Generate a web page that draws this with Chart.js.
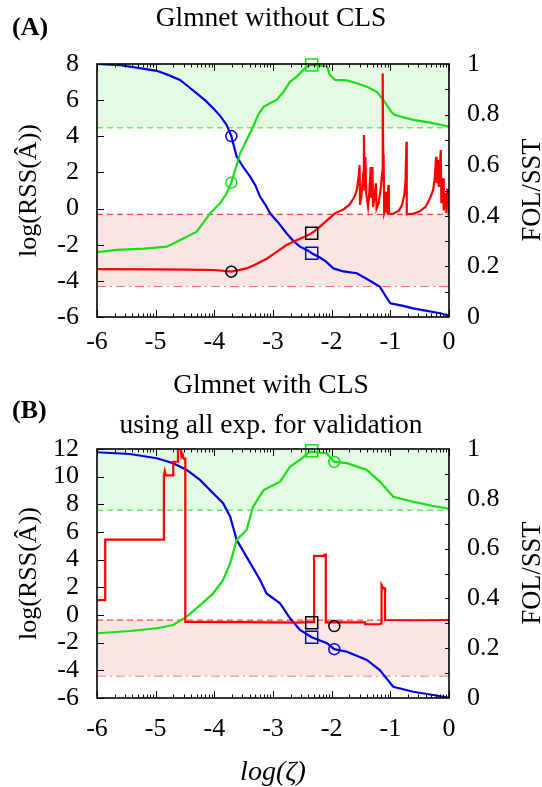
<!DOCTYPE html>
<html>
<head>
<meta charset="utf-8">
<script src="https://cdn.jsdelivr.net/npm/chart.js@4.4.1/dist/chart.umd.min.js"></script>
<style>
  body { margin: 0; background: #fff; }
  #wrap { position: relative; width: 542px; height: 787px; font-family: 'Liberation Serif', 'Times New Roman', serif; }
  canvas { position: absolute; left: 0; }
  .tag { position: absolute; font-weight: bold; font-size: 26px; line-height: 30px; }
  .y2t { position: absolute; font-size: 26.5px; line-height: 30px; white-space: nowrap; transform: translate(-50%, -50%) rotate(-90deg); }
</style>
</head>
<body>
<div id="wrap">
  <canvas id="chartA" width="542" height="360" style="top:0"></canvas>
  <canvas id="chartB" width="542" height="427" style="top:360px"></canvas>
  <div class="tag" style="left:12px; top:12px">(A)</div>
  <div class="tag" style="left:12px; top:395px">(B)</div>
  <div class="y2t" style="left:531px; top:190px">FOL/SST</div>
  <div class="y2t" style="left:531px; top:573px">FOL/SST</div>
</div>
<script>
// ---- data ----
const xTicks = [-6, -5, -4, -3, -2, -1, 0];

// panel A : Glmnet without CLS
const aBlueX = [-6, -5.6, -5.3, -4.98, -4.8, -4.585, -4.45, -4.3, -4.15, -4.02, -3.9, -3.79, -3.71, -3.62, -3.5, -3.39, -3.3, -3.22, -3.12, -3.05, -2.9, -2.77, -2.65, -2.54, -2.4, -2.34, -2.2, -2.1, -1.97, -1.8, -1.57, -1.4, -1.18, -1.1, -1.0, -0.8, -0.61, -0.4, -0.15, 0];
const aBlueY = [1.0, 0.995, 0.985, 0.973, 0.958, 0.937, 0.912, 0.884, 0.855, 0.825, 0.795, 0.759, 0.715, 0.634, 0.59, 0.555, 0.52, 0.475, 0.44, 0.41, 0.37, 0.331, 0.3, 0.278, 0.262, 0.252, 0.235, 0.22, 0.192, 0.18, 0.173, 0.15, 0.12, 0.09, 0.054, 0.045, 0.034, 0.025, 0.015, 0.005];
const aGreenX = [-6, -5.66, -5.2, -4.81, -4.58, -4.3, -4.07, -3.9, -3.79, -3.71, -3.62, -3.56, -3.45, -3.34, -3.25, -3.16, -3.05, -2.94, -2.82, -2.71, -2.62, -2.54, -2.45, -2.37, -2.2, -2.08, -2.03, -1.94, -1.74, -1.57, -1.4, -1.23, -1.12, -0.98, -0.92, -0.61, -0.32, -0.04, 0];
const aGreenY = [0.256, 0.265, 0.27, 0.278, 0.304, 0.337, 0.41, 0.45, 0.489, 0.531, 0.6, 0.647, 0.7, 0.752, 0.8, 0.831, 0.845, 0.858, 0.89, 0.93, 0.945, 0.963, 0.985, 0.996, 0.993, 0.99, 0.956, 0.937, 0.935, 0.924, 0.91, 0.89, 0.858, 0.81, 0.798, 0.779, 0.768, 0.755, 0.752];
const aRedX = [-6, -5, -4.5, -4.0, -3.71, -3.45, -3.3, -3.1, -2.95, -2.77, -2.6, -2.45, -2.34, -2.2, -2.08, -1.94, -1.8, -1.7, -1.62, -1.57, -1.54, -1.525, -1.515,
  -1.49, -1.46, -1.45, -1.44, -1.425, -1.41, -1.38, -1.36, -1.335, -1.325, -1.305, -1.295, -1.275, -1.245, -1.235, -1.2, -1.16, -1.14, -1.13, -1.122, -1.115, -1.105,
  -1.09, -1.075, -1.065, -1.055, -1.045, -1.035, -1.025, -0.95, -0.85, -0.8, -0.76, -0.74, -0.725, -0.72, -0.6, -0.5, -0.4, -0.32, -0.27, -0.24, -0.22, -0.21,
  -0.19, -0.175, -0.14, -0.13, -0.1, -0.09, -0.07, -0.055, -0.045, -0.03, -0.01, 0];
const aRedY = [-3.35, -3.37, -3.38, -3.4, -3.49, -3.31, -3.1, -2.76, -2.42, -2.02, -1.75, -1.55, -1.37, -1.0, -0.65, -0.25, -0.05, 0.2, 0.6, 1.03, 1.8, 2.41, 0.2,
  0.8, 2.0, 4.07, 1.0, 2.87, 0.8, 0.1, 0.8, 2.3, 0.6, 2.3, 0.1, 0.5, 1.4, 0.0, 0.3, 1.2, 2.0, 7.48, 3.0, 3.05, -0.26,
  -0.1, 0.93, -0.2, 0.7, -0.3, 1.3, -0.3, -0.28, -0.1, 0.2, 0.8, 1.6, 3.7, -0.32, -0.28, -0.15, 0.1, 0.6, 1.03, 1.8, 2.87, 1.4,
  2.69, 1.2, 3.24, 0.3, 1.68, -0.1, 0.5, 0.86, -0.26, 1.03, 1.0, -0.3];
const aBands = { green: 0.748, redTop: -0.32, redBottom: -4.29 };
const aCircleX = [-3.71], aCircleBlue = [0.715], aCircleGreen = [0.531], aCircleRed = [-3.49];
const aSquareX = [-2.34], aSquareBlue = [0.252], aSquareGreen = [0.996], aSquareRed = [-1.37];

// panel B : Glmnet with CLS, all exp. for validation
const bBlueX = [-6, -5.44, -4.98, -4.7, -4.47, -4.24, -4.02, -3.85, -3.73, -3.62, -3.45, -3.22, -3.11, -2.88, -2.71, -2.54, -2.34, -2.08, -1.955, -1.74, -1.4, -1.18, -0.95, -0.61, -0.27, -0.04, 0];
const bBlueY = [0.987, 0.98, 0.963, 0.943, 0.916, 0.875, 0.822, 0.782, 0.728, 0.635, 0.567, 0.474, 0.42, 0.38, 0.32, 0.273, 0.244, 0.22, 0.196, 0.186, 0.153, 0.112, 0.045, 0.025, 0.012, 0.003, 0.002];
const bGreenX = [-6, -5.44, -4.98, -4.7, -4.47, -4.24, -4.02, -3.85, -3.73, -3.62, -3.45, -3.34, -3.16, -2.88, -2.71, -2.54, -2.37, -2.08, -1.955, -1.74, -1.4, -1.18, -0.95, -0.61, -0.27, -0.04, 0];
const bGreenY = [0.26, 0.269, 0.28, 0.293, 0.327, 0.373, 0.42, 0.474, 0.541, 0.635, 0.675, 0.768, 0.835, 0.869, 0.929, 0.956, 0.989, 0.983, 0.948, 0.943, 0.916, 0.869, 0.808, 0.788, 0.771, 0.762, 0.76];
const bRedX = [-6, -5.86, -5.86, -4.86, -4.86, -4.845, -4.83, -4.7, -4.7, -4.62, -4.62, -4.57, -4.56, -4.54, -4.525, -4.495, -4.495, -3.5, -2.6, -2.3, -2.3, -2.12, -2.12, -2.1, -2.1, -1.75, -1.43, -1.43, -1.18, -1.15, -1.15, -1.12, -1.09, -1.09, -0.5, 0];
const bRedY = [1.08, 1.08, 5.45, 5.45, 10.1, 10.4, 10.1, 10.1, 11.08, 11.08, 11.98, 11.98, 11.45, 11.6, 11.3, 11.3, -0.5, -0.52, -0.55, -0.5, 4.27, 4.27, 4.36, 4.36, -0.53, -0.53, -0.53, -0.67, -0.67, -0.6, 2.17, 1.93, 1.93, -0.36, -0.38, -0.36];
const bBands = { green: 0.754, redTop: -0.37, redBottom: -4.4 };
const bCircleX = [-1.955], bCircleBlue = [0.196], bCircleGreen = [0.948], bCircleRed = [-0.8];
const bSquareX = [-2.34], bSquareBlue = [0.244], bSquareGreen = [0.993], bSquareRed = [-0.56];

// ---- styling ----
const FONT = "'Liberation Serif', 'Times New Roman', serif";
const BLUE = 'rgb(0,0,235)', GREEN = 'rgb(20,225,20)', RED = 'rgb(255,0,0)';
Chart.defaults.font.family = FONT;
Chart.defaults.font.size = 26;
Chart.defaults.color = '#000';

function pts(xs, ys) {
    return xs.map((x, i) => ({ x: x, y: ys[i] }));
}

function curve(xs, ys, color, axis) {
    return { data: pts(xs, ys), borderColor: color, borderWidth: 2.2, pointRadius: 0,
             tension: 0, fill: false, yAxisID: axis, order: 5 };
}

function marker(xs, ys, color, axis, style) {
    return { type: 'scatter', data: pts(xs, ys), borderColor: color, backgroundColor: 'rgba(0,0,0,0)',
             pointStyle: style, pointRadius: style === 'rect' ? 8.5 : 5.5, borderWidth: 1.5,
             yAxisID: axis, order: 0, clip: false };
}

function bandLines(b) {
    return [
        { data: pts([-6, 0], [b.green, b.green]), yAxisID: 'y2', borderColor: 'rgb(110,235,110)',
          borderWidth: 1.5, borderDash: [6, 4], pointRadius: 0, fill: 'end',
          backgroundColor: 'rgb(229,250,227)', order: 10 },
        { data: pts([-6, 0], [b.redTop, b.redTop]), yAxisID: 'y', borderColor: 'rgb(255,70,70)',
          borderWidth: 1.2, borderDash: [6, 4], pointRadius: 0, fill: '+1',
          backgroundColor: 'rgb(250,228,228)', order: 10 },
        { data: pts([-6, 0], [b.redBottom, b.redBottom]), yAxisID: 'y', borderColor: 'rgb(255,70,70)',
          borderWidth: 1.2, borderDash: [9, 4, 2, 4], pointRadius: 0, fill: false, order: 10 }
    ];
}

// inward ticks on all four sides + frame
const frameTicks = {
    id: 'frameTicks',
    afterDatasetsDraw(chart) {
        const { ctx, chartArea: a, scales } = chart;
        ctx.save();
        ctx.strokeStyle = '#000';
        ctx.lineWidth = 1;
        const seg = (x1, y1, x2, y2) => { ctx.beginPath(); ctx.moveTo(x1, y1); ctx.lineTo(x2, y2); ctx.stroke(); };
        xTicks.forEach(d => {
            const px = Math.round(scales.x.getPixelForValue(d)) + 0.5;
            seg(px, a.bottom, px, a.bottom - 7);
            seg(px, a.top, px, a.top + 7);
            if (d < 0) {
                for (let k = 2; k <= 9; k++) {
                    const m = Math.round(scales.x.getPixelForValue(d + Math.log10(k))) + 0.5;
                    seg(m, a.bottom, m, a.bottom - 3.5);
                    seg(m, a.top, m, a.top + 3.5);
                }
            }
        });
        scales.y.ticks.forEach(t => {
            const py = Math.round(scales.y.getPixelForValue(t.value)) + 0.5;
            seg(a.left, py, a.left + 7, py);
        });
        for (let i = 1; i < 10; i++) {
            const py = Math.round(scales.y2.getPixelForValue(i / 10)) + 0.5;
            seg(a.right, py, a.right - 4, py);
        }
        ctx.lineWidth = 1.6;
        ctx.strokeRect(a.left, a.top, a.right - a.left, a.bottom - a.top);
        ctx.restore();
    }
};

function makePanel(id, opts) {
    const ctx = document.getElementById(id).getContext('2d');
    return new Chart(ctx, {
        type: 'line',
        data: { datasets: opts.datasets },
        plugins: [frameTicks],
        options: {
            responsive: false,
            animation: false,
            layout: { padding: 0 },
            plugins: {
                legend: { display: false },
                tooltip: { enabled: false },
                title: { display: true, text: opts.title, color: '#000',
                         font: { size: 27.5, weight: 'normal', lineHeight: opts.titleLine },
                         padding: opts.titlePad }
            },
            scales: {
                x: {
                    type: 'linear', min: -6, max: 0,
                    grid: { display: false, drawTicks: false }, border: { display: false },
                    ticks: { stepSize: 1, autoSkip: false, maxRotation: 0, padding: opts.xPad },
                    title: opts.xTitle,
                    afterFit: s => { s.height = opts.xHeight; }
                },
                y: {
                    type: 'linear', position: 'left', min: opts.yMin, max: opts.yMax,
                    grid: { display: false, drawTicks: false }, border: { display: false },
                    ticks: { stepSize: 2, padding: 18, autoSkip: false },
                    title: { display: true, text: 'log(RSS(Â))', font: { size: 26 }, padding: { top: 14, bottom: 0 } },
                    afterFit: s => { s.width = 97; }
                },
                y2: {
                    type: 'linear', position: 'right', min: 0, max: 1,
                    grid: { display: false, drawTicks: false }, border: { display: false },
                    ticks: { stepSize: 0.2, padding: 18, autoSkip: false,
                             callback: v => String(Math.round(v * 10) / 10) },
                    afterFit: s => { s.width = 93; }
                }
            }
        }
    });
}

function panelData(p) {
    return [
        marker(p.sqX, p.sqGreen, GREEN, 'y2', 'rect'),
        marker(p.sqX, p.sqBlue, BLUE, 'y2', 'rect'),
        marker(p.sqX, p.sqRed, '#000', 'y', 'rect'),
        marker(p.ciX, p.ciGreen, GREEN, 'y2', 'circle'),
        marker(p.ciX, p.ciBlue, BLUE, 'y2', 'circle'),
        marker(p.ciX, p.ciRed, '#000', 'y', 'circle'),
        curve(p.redX, p.redY, RED, 'y'),
        curve(p.greenX, p.greenY, GREEN, 'y2'),
        curve(p.blueX, p.blueY, BLUE, 'y2'),
        ...bandLines(p.bands)
    ];
}

makePanel('chartA', {
    title: 'Glmnet without CLS', titleLine: '30px', titlePad: { top: 4.1, bottom: 29.9 },
    yMin: -6, yMax: 8, xPad: 10, xHeight: 43, xTitle: { display: false },
    datasets: panelData({
        sqX: aSquareX, sqGreen: aSquareGreen, sqBlue: aSquareBlue, sqRed: aSquareRed,
        ciX: aCircleX, ciGreen: aCircleGreen, ciBlue: aCircleBlue, ciRed: aCircleRed,
        redX: aRedX, redY: aRedY, greenX: aGreenX, greenY: aGreenY, blueX: aBlueX, blueY: aBlueY,
        bands: aBands
    })
});

makePanel('chartB', {
    title: ['Glmnet with CLS', 'using all exp. for validation'], titleLine: '40px',
    titlePad: { top: 5.7, bottom: 3.3 },
    yMin: -6, yMax: 12, xPad: 15.4, xHeight: 89,
    xTitle: { display: true, text: 'log(ζ)', font: { size: 28, style: 'italic', lineHeight: 1 },
              padding: { top: 0, bottom: 0 } },
    datasets: panelData({
        sqX: bSquareX, sqGreen: bSquareGreen, sqBlue: bSquareBlue, sqRed: bSquareRed,
        ciX: bCircleX, ciGreen: bCircleGreen, ciBlue: bCircleBlue, ciRed: bCircleRed,
        redX: bRedX, redY: bRedY, greenX: bGreenX, greenY: bGreenY, blueX: bBlueX, blueY: bBlueY,
        bands: bBands
    })
});
</script>
</body>
</html>
